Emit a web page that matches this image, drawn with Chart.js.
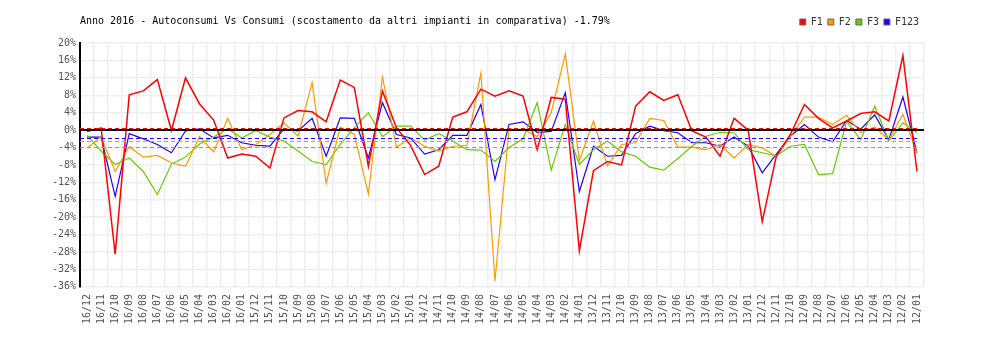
<!DOCTYPE html>
<html lang="it">
<head>
<meta charset="utf-8">
<title>Autoconsumi Vs Consumi</title>
<script src="https://cdn.jsdelivr.net/npm/chart.js@4.4.0/dist/chart.umd.min.js"></script>
<style>
  html, body { margin: 0; padding: 0; background: #fff; }
  #grafico { display: block; }
</style>
</head>
<body>
<canvas id="grafico" width="1000" height="340"></canvas>
<script>
// Mesi, dal piu recente al piu vecchio
const mesi = [
  '16/12','16/11','16/10','16/09','16/08','16/07','16/06','16/05','16/04','16/03','16/02','16/01',
  '15/12','15/11','15/10','15/09','15/08','15/07','15/06','15/05','15/04','15/03','15/02','15/01',
  '14/12','14/11','14/10','14/09','14/08','14/07','14/06','14/05','14/04','14/03','14/02','14/01',
  '13/12','13/11','13/10','13/09','13/08','13/07','13/06','13/05','13/04','13/03','13/02','13/01',
  '12/12','12/11','12/10','12/09','12/08','12/07','12/06','12/05','12/04','12/03','12/02','12/01'
];

// Scostamento % per fascia
const f1 = [
  -0.3, 0.5, -28.5, 8.1, 9.0, 11.6, -0.1, 12.0, 6.0, 2.3, -6.4, -5.5,
  -6.0, -8.7, 2.8, 4.5, 4.2, 1.9, 11.5, 9.8, -8.3, 9.0, 0.5, -3.5,
  -10.2, -8.3, 3.0, 4.2, 9.4, 7.8, 9.0, 7.8, -4.5, 7.5, 7.1, -27.7,
  -9.3, -7.2, -8.0, 5.5, 8.8, 6.8, 8.1, -0.2, -1.6, -6.0, 2.7, 0.0,
  -21.0, -6.0, -1.0, 5.9, 2.7, 0.5, 2.1, 3.8, 4.2, 2.1, 17.1, -9.5
];
const f2 = [
  -4.1, -1.6, -9.5, -3.8, -6.2, -5.8, -7.5, -8.3, -1.5, -5.0, 2.7, -4.5,
  -3.3, -1.0, 1.7, -1.4, 10.9, -12.2, 0.7, -1.0, -14.7, 12.2, -3.9, -1.8,
  -3.7, -4.8, -3.7, -3.5, 13.1, -34.7, 0.2, 0.2, -1.5, 4.0, 17.5, -7.0,
  2.1, -8.2, -3.3, -2.9, 2.7, 2.2, -3.9, -3.9, -4.5, -3.3, -6.4, -3.3,
  -4.1, -6.0, -1.5, 3.0, 3.0, 1.3, 3.4, -0.6, 0.7, -2.2, 3.6, -5.2
];
const f3 = [
  -1.2, -4.8, -7.9, -6.4, -9.5, -14.8, -7.8, -6.2, -3.2, -1.6, 0.3, -1.8,
  -0.1, -1.6, -2.5, -4.8, -7.2, -7.9, -3.3, 0.5, 4.0, -1.5, 0.9, 0.9,
  -2.3, -0.8, -2.5, -4.5, -4.6, -7.2, -4.0, -2.0, 6.3, -9.2, 1.3, -7.9,
  -4.5, -2.5, -5.0, -6.0, -8.5, -9.2, -6.5, -3.7, -1.4, -0.5, -0.6, -4.5,
  -5.2, -5.9, -3.7, -3.3, -10.2, -10.0, 2.0, -2.2, 5.5, -2.5, 1.7, -0.6
];
const f123 = [
  -1.6, -1.6, -15.2, -0.8, -2.0, -3.3, -5.2, -0.2, 0.3, -1.8, -1.2, -2.9,
  -3.5, -3.7, 0.3, -0.2, 2.7, -6.0, 2.8, 2.7, -6.4, 6.3, -1.0, -1.8,
  -5.5, -4.5, -1.2, -1.2, 5.9, -11.4, 1.3, 1.9, -0.5, -0.3, 8.6, -14.1,
  -3.7, -6.0, -5.8, -0.8, 0.9, -0.1, -0.6, -2.9, -2.9, -3.7, -1.6, -3.7,
  -9.8, -5.5, -1.4, 1.3, -1.6, -2.7, 2.2, 0.2, 3.5, -2.2, 7.6, -5.2
];

// Medie del periodo (linee tratteggiate)
const medie = [0.5, -2.4, -3.8, -1.8];
const nomi = ['F1', 'F2', 'F3', 'F123'];
const colori = ['#ff0000', '#ff9900', '#66cc00', '#2200ff'];

const titolo = 'Anno 2016 - Autoconsumi Vs Consumi (scostamento da altri impianti in comparativa) -1.79%';

Chart.defaults.font.family = "'DejaVu Sans Mono', monospace";
Chart.defaults.font.size = 10;

// Titolo a sinistra, sulla stessa riga della legenda
const titoloPlugin = {
  id: 'titoloRiga',
  afterDraw(chart) {
    const ctx = chart.ctx;
    ctx.save();
    ctx.font = "10px 'DejaVu Sans Mono', monospace";
    ctx.fillStyle = '#000';
    ctx.textBaseline = 'middle';
    ctx.textAlign = 'left';
    ctx.fillText(titolo, 80, 21);
    ctx.restore();
  }
};

// Linea dello zero e linee delle medie
const lineePlugin = {
  id: 'lineeRiferimento',
  afterDatasetsDraw(chart) {
    const {ctx, chartArea, scales} = chart;
    const y = scales.y;
    ctx.save();
    medie.forEach((m, i) => {
      const py = Math.round(y.getPixelForValue(m)) + 0.5;
      ctx.beginPath();
      ctx.setLineDash([4, 3]);
      ctx.lineWidth = 1;
      ctx.strokeStyle = colori[i];
      ctx.moveTo(chartArea.left, py);
      ctx.lineTo(chartArea.right - 4, py);
      ctx.stroke();
    });
    const p0 = Math.round(y.getPixelForValue(0));
    ctx.setLineDash([]);
    ctx.lineWidth = 2;
    ctx.strokeStyle = '#000';
    ctx.beginPath();
    ctx.moveTo(chartArea.left, p0);
    ctx.lineTo(chartArea.right, p0);
    ctx.stroke();
    ctx.restore();
  }
};

const serie = [f1, f2, f3, f123];

new Chart(document.getElementById('grafico'), {
  type: 'line',
  data: {
    labels: mesi,
    datasets: serie.map((valori, i) => ({
      label: nomi[i],
      data: valori,
      borderColor: colori[i],
      backgroundColor: colori[i],
      borderWidth: i === 0 ? 1.5 : 1.2,
      pointRadius: 0,
      tension: 0,
      fill: false
    }))
  },
  options: {
    responsive: false,
    animation: false,
    layout: { padding: { top: 12, right: 76, bottom: 9, left: 0 } },
    plugins: {
      tooltip: { enabled: false },
      legend: {
        position: 'top',
        align: 'end',
        labels: {
          boxWidth: 6,
          boxHeight: 6,
          padding: 5,
          color: '#333',
          generateLabels(chart) {
            return chart.data.datasets.map((ds, i) => ({
              text: ds.label,
              fillStyle: ds.borderColor,
              strokeStyle: '#666',
              lineWidth: 1,
              fontColor: '#333',
              datasetIndex: i
            }));
          }
        }
      }
    },
    scales: {
      x: {
        type: 'category',
        offset: true,
        grid: { offset: true, color: '#eeeeee', lineWidth: 1.5, drawTicks: false },
        border: { display: false },
        ticks: { autoSkip: false, maxRotation: 90, minRotation: 90, padding: 7, color: '#555' }
      },
      xTop: {
        type: 'category',
        position: 'top',
        display: true,
        grid: { display: false, drawTicks: false },
        border: { display: false },
        ticks: { display: false },
        afterFit(s) { s.height = 6; }
      },
      y: {
        min: -36,
        max: 20,
        ticks: { stepSize: 4, padding: 4, color: '#555', callback: v => v + '%' },
        grid: { color: '#eeeeee', lineWidth: 1.5, drawTicks: false },
        border: { display: true, color: '#000', width: 2 },
        afterFit(s) { s.width = 80; }
      }
    }
  },
  plugins: [lineePlugin, titoloPlugin]
});
</script>
</body>
</html>
